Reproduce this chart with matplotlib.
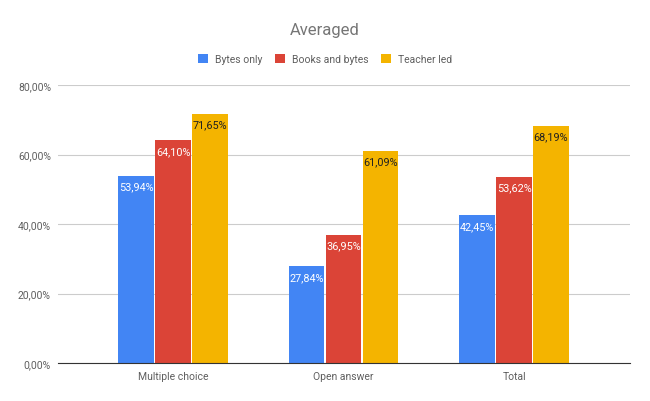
import matplotlib.pyplot as plt
import numpy as np
from matplotlib.ticker import FuncFormatter

plt.rcParams["font.family"] = ["Roboto", "DejaVu Sans"]

# ── Data ────────────────────────────────────────────────────────────────────
categories = ["Multiple choice", "Open answer", "Total"]
series_names = ["Bytes only", "Books and bytes", "Teacher led"]
bytes_only = [53.94, 27.84, 42.45]
books_and_bytes = [64.10, 36.95, 53.62]
teacher_led = [71.65, 61.09, 68.19]

colors = ["#4285F4", "#DB4437", "#F4B400"]
label_colors = ["white", "white", "#212121"]


def pct(v, _=None):
    return f"{v:.2f}%".replace(".", ",")


fig = plt.figure(figsize=(6.5, 4.02), dpi=100)
ax = fig.add_axes([58 / 650, 38 / 402, 572 / 650, 278 / 402])

x = np.arange(len(categories))
width = 0.21
step = 0.217

for i, (name, vals) in enumerate(zip(series_names, [bytes_only, books_and_bytes, teacher_led])):
    pos = x + (i - 1) * step
    bars = ax.bar(pos, vals, width=width, color=colors[i], label=name, zorder=3)
    for b, v in zip(bars, vals):
        ax.annotate(pct(v), (b.get_x() + b.get_width() / 2, v), xytext=(0, -4),
                    textcoords="offset points", ha="center", va="top",
                    fontsize=7.8, color=label_colors[i], zorder=4)

ax.set_xlim(-0.675, 2.68)
ax.set_ylim(0, 80)
ax.set_yticks([0, 20, 40, 60, 80])
ax.yaxis.set_major_formatter(FuncFormatter(pct))
ax.set_xticks(x)
ax.set_xticklabels(categories)
ax.tick_params(axis="both", length=0, labelsize=7.5, labelcolor="#5f5f5f")
ax.tick_params(axis="y", pad=5)
ax.tick_params(axis="x", pad=6)
ax.grid(axis="y", color="#cccccc", linewidth=0.8, zorder=0)
for s in ["top", "right", "left"]:
    ax.spines[s].set_visible(False)
ax.spines["bottom"].set_color("#333333")
ax.spines["bottom"].set_zorder(5)

fig.suptitle("Averaged", y=1 - 30 / 402, va="center", fontsize=12, color="#757575")
fig.legend(loc="center", bbox_to_anchor=(0.5, 1 - 60 / 402), ncol=3, frameon=False,
           fontsize=7.5, handlelength=0.95, handleheight=0.95, handletextpad=0.65,
           columnspacing=1.25, labelcolor="#5f5f5f")

fig.savefig("out.png", dpi=100)
